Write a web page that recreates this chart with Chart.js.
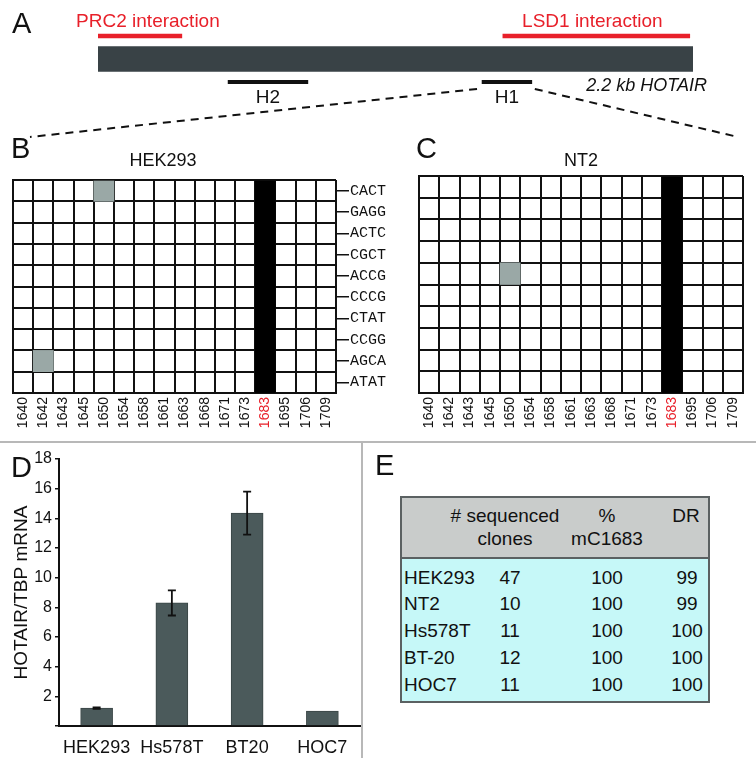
<!DOCTYPE html>
<html>
<head>
<meta charset="utf-8">
<script src="https://cdn.jsdelivr.net/npm/chart.js@4.4.1/dist/chart.umd.min.js"></script>
<style>
body { margin: 0; background: #fff; }
#fig { position: relative; width: 756px; height: 758px; overflow: hidden; font-family: "Liberation Sans", Arial, sans-serif; color: #111; }
#fig canvas { position: absolute; }
.letter { position: absolute; font-size: 29px; line-height: 29px; }
.title { position: absolute; font-size: 18px; line-height: 18px; transform: translateX(-50%); white-space: nowrap; }
.sep { position: absolute; background: #b8b8b8; }
.tbox { position: absolute; left: 400px; top: 496px; width: 310px; height: 207px; box-sizing: border-box; border: 2px solid #5b6162; background: #c6f8f8; }
.thead { position: absolute; left: 0; top: 0; width: 306px; height: 59px; background: #c9cccb; border-bottom: 2px solid #5b6162; }
.cell { position: absolute; font-size: 19px; line-height: 19px; white-space: nowrap; }
.mid { transform: translateX(-50%); }
</style>
</head>
<body>
<div id="fig">
  <canvas id="geneMap" width="756" height="170" style="left:0;top:0"></canvas>
  <canvas id="nt2Grid" width="376" height="272" style="left:380px;top:170px"></canvas>
  <canvas id="hekGrid" width="400" height="272" style="left:0;top:170px"></canvas>
  <canvas id="hotairBar" width="362" height="315" style="left:0;top:443px"></canvas>

  <div class="sep" style="left:0;top:441px;width:756px;height:1.5px"></div>
  <div class="sep" style="left:361px;top:442px;width:1.5px;height:316px"></div>

  <div class="letter" style="left:12px;top:9px">A</div>
  <div class="letter" style="left:11px;top:134px">B</div>
  <div class="letter" style="left:416px;top:134px">C</div>
  <div class="letter" style="left:11px;top:453px">D</div>
  <div class="letter" style="left:375px;top:451px">E</div>

  <div class="title" style="left:163px;top:151px">HEK293</div>
  <div class="title" style="left:581px;top:151px">NT2</div>

  <div class="tbox"><div class="thead"></div></div>
  <div id="tableText"></div>
</div>

<script>
// ---- panel A: HOTAIR transcript map (positions in bp) ----
var geneLengthBp = 2200;
var domainNames = ['PRC2 interaction', 'LSD1 interaction'];
var domainStart = [0, 1497];
var domainEnd = [310, 2188];
var ampliconNames = ['H2', 'H1'];
var ampliconStart = [481, 1420];
var ampliconEnd = [776, 1604];

// ---- panels B/C: bisulfite clones ----
var cpgSites = ['1640', '1642', '1643', '1645', '1650', '1654', '1658', '1661', '1663', '1668', '1671', '1673', '1683', '1695', '1706', '1709'];
var focusSite = '1683';
var hekReads = ['CACT', 'GAGG', 'ACTC', 'CGCT', 'ACCG', 'CCCG', 'CTAT', 'CCGG', 'AGCA', 'ATAT'];
var hekMethylated = ['1683'];          // methylated in every clone
var hekGreySites = ['1650', '1642'];
var hekGreyReads = [0, 8];
var nt2ReadCount = 10;
var nt2Methylated = ['1683'];
var nt2GreySites = ['1650'];
var nt2GreyReads = [4];

// ---- panel D: expression ----
var cellLines = ['HEK293', 'Hs578T', 'BT20', 'HOC7'];
var hotairLevel = [1.2, 8.3, 14.35, 1.0];
var hotairError = [0.05, 0.85, 1.45, 0];

// ---- panel E: table ----
var tableLines = ['HEK293', 'NT2', 'Hs578T', 'BT-20', 'HOC7'];
var sequencedClones = [47, 10, 11, 12, 11];
var pctMethylC1683 = [100, 100, 100, 100, 100];
var drValues = [99, 99, 100, 100, 100];

var RED = '#e8202a';
var INK = '#111';
var SANS = '"Liberation Sans", Arial, sans-serif';
Chart.defaults.font.family = SANS;
Chart.defaults.color = INK;
Chart.defaults.animation = false;

// ---------- A ----------
const geneText = {
    id: 'geneText',
    afterDatasetsDraw(chart) {
        const ctx = chart.ctx;
        ctx.save();
        ctx.font = '19px ' + SANS;
        ctx.textAlign = 'center';
        ctx.textBaseline = 'alphabetic';
        ctx.fillStyle = RED;
        chart.getDatasetMeta(0).data.forEach(function (bar, i) {
            ctx.fillText(domainNames[i], (bar.x + bar.base) / 2 + (i === 0 ? 8 : -4), bar.y - 9);
        });
        ctx.fillStyle = INK;
        const amp = chart.getDatasetMeta(2).data;
        amp.forEach(function (bar, i) {
            ctx.fillText(ampliconNames[i], (bar.x + bar.base) / 2, bar.y + 21);
        });
        const tr = chart.getDatasetMeta(1).data[0];
        ctx.font = 'italic 18px ' + SANS;
        ctx.textAlign = 'right';
        ctx.fillText('2.2 kb HOTAIR', tr.x + 14, amp[0].y + 9);

        // dashed zoom lines from H1 to panels B and C
        const h1 = amp[1];
        ctx.strokeStyle = INK;
        ctx.lineWidth = 2;
        ctx.setLineDash([8, 6]);
        ctx.beginPath();
        ctx.moveTo(h1.base - 5, h1.y + 7);
        ctx.lineTo(30, 137);
        ctx.moveTo(h1.x + 3, h1.y + 7);
        ctx.lineTo(738, 137);
        ctx.stroke();
        ctx.restore();
    }
};

new Chart(document.getElementById('geneMap'), {
    type: 'bar',
    data: {
        labels: ['domains', 'transcript', 'amplicons'],
        datasets: [{
            data: domainNames.map(function (n, i) { return { y: 'domains', x: [domainStart[i], domainEnd[i]] }; }),
            backgroundColor: RED,
            barThickness: 4,
            grouped: false
        }, {
            data: [{ y: 'transcript', x: [0, geneLengthBp] }],
            backgroundColor: '#394246',
            barThickness: 25,
            grouped: false
        }, {
            data: ampliconNames.map(function (n, i) { return { y: 'amplicons', x: [ampliconStart[i], ampliconEnd[i]] }; }),
            backgroundColor: INK,
            barThickness: 3.5,
            grouped: false
        }]
    },
    options: {
        indexAxis: 'y',
        responsive: false,
        layout: { padding: { left: 98, right: 63, top: 24.5, bottom: 76.5 } },
        plugins: { legend: { display: false }, tooltip: { enabled: false } },
        scales: {
            x: { type: 'linear', min: 0, max: geneLengthBp, display: false },
            y: { display: false }
        }
    },
    plugins: [geneText]
});

// ---------- B / C ----------
function cellBars(methylated, rows, greySites, greyReads) {
    return [{
        data: methylated.map(function (s) { return { x: s, y: [0, rows] }; }),
        backgroundColor: '#000',
        barPercentage: 1, categoryPercentage: 1, grouped: false
    }, {
        data: greySites.map(function (s, i) { return { x: s, y: [greyReads[i], greyReads[i] + 1] }; }),
        backgroundColor: '#9aa8a6',
        barPercentage: 1, categoryPercentage: 1, grouped: false
    }];
}

function LoadCloneGrid(canvasId, rows, rowLabels, datasets, padLeft, padRight, labelWidth) {
    const scales = {
        x: {
            z: 1,
            grid: { color: INK, lineWidth: 2, drawTicks: false, offset: true },
            border: { color: INK, width: 2 },
            ticks: {
                autoSkip: false, minRotation: 90, maxRotation: 90, padding: 4,
                font: { size: 14 },
                color: function (c) { return cpgSites[c.index] === focusSite ? RED : INK; }
            },
            afterFit: function (s) { s.height = 49; }
        },
        y: {
            z: 1, position: 'left', min: 0, max: rows, reverse: true,
            ticks: { display: false, stepSize: 1 },
            grid: { color: INK, lineWidth: 2, drawTicks: false },
            border: { color: INK, width: 2 },
            afterFit: function (s) { s.width = 0; }
        }
    };
    if (rowLabels) {
        scales.y2 = {
            z: 1, position: 'right', min: 0, max: rows, reverse: true,
            afterBuildTicks: function (s) {
                s.ticks = rowLabels.map(function (l, i) { return { value: i + 0.5 }; });
            },
            ticks: {
                padding: 1, color: INK,
                font: { family: '"Liberation Mono", "Courier New", monospace', size: 15 },
                callback: function (v, i) { return rowLabels[i]; }
            },
            grid: { drawOnChartArea: false, color: INK, lineWidth: 1.5, tickLength: 13 },
            border: { display: false },
            afterFit: function (s) { s.width = labelWidth; }
        };
    }
    new Chart(document.getElementById(canvasId), {
        type: 'bar',
        data: { labels: cpgSites, datasets: datasets },
        options: {
            responsive: false,
            layout: { padding: { left: padLeft, right: padRight, top: 6, bottom: 0 } },
            plugins: { legend: { display: false }, tooltip: { enabled: false } },
            scales: scales
        }
    });
}

LoadCloneGrid('hekGrid', hekReads.length, hekReads, cellBars(hekMethylated, hekReads.length, hekGreySites, hekGreyReads), 13, 0, 400 - 336);
LoadCloneGrid('nt2Grid', nt2ReadCount, null, cellBars(nt2Methylated, nt2ReadCount, nt2GreySites, nt2GreyReads), 39, 13, 0);

// ---------- D ----------
const errorBars = {
    id: 'errorBars',
    afterDatasetsDraw(chart) {
        const ctx = chart.ctx;
        const y = chart.scales.y;
        ctx.save();
        ctx.strokeStyle = INK;
        ctx.lineWidth = 1.8;
        chart.getDatasetMeta(0).data.forEach(function (bar, i) {
            const e = hotairError[i];
            if (!e) return;
            const top = y.getPixelForValue(hotairLevel[i] + e);
            const bot = y.getPixelForValue(hotairLevel[i] - e);
            ctx.beginPath();
            ctx.moveTo(bar.x, top); ctx.lineTo(bar.x, bot);
            ctx.moveTo(bar.x - 4, top); ctx.lineTo(bar.x + 4, top);
            ctx.moveTo(bar.x - 4, bot); ctx.lineTo(bar.x + 4, bot);
            ctx.stroke();
        });
        ctx.restore();
    }
};

new Chart(document.getElementById('hotairBar'), {
    type: 'bar',
    data: {
        labels: cellLines,
        datasets: [{
            data: hotairLevel,
            backgroundColor: '#4b5a5b',
            borderColor: '#3a4646',
            borderWidth: 1,
            barThickness: 32
        }]
    },
    options: {
        responsive: false,
        layout: { padding: { left: 0, right: 2, top: 16, bottom: 0 } },
        plugins: { legend: { display: false }, tooltip: { enabled: false } },
        scales: {
            x: {
                grid: { display: false },
                border: { color: INK, width: 2 },
                ticks: { font: { size: 18 }, padding: 3, color: INK },
                afterFit: function (s) { s.height = 32; }
            },
            y: {
                min: 0, max: 18,
                ticks: {
                    stepSize: 2, font: { size: 16 }, padding: 3, color: INK,
                    callback: function (v) { return v === 0 ? '' : v; }
                },
                grid: { drawOnChartArea: false, color: INK, lineWidth: 1.5, tickLength: 4 },
                border: { color: INK, width: 2 },
                title: { display: true, text: 'HOTAIR/TBP mRNA', font: { size: 19 }, color: INK, padding: { top: 10, bottom: 0 } },
                afterFit: function (s) { s.width = 59; }
            }
        }
    },
    plugins: [errorBars]
});

// ---------- E ----------
function addCell(text, x, cy, centered) {
    const d = document.createElement('div');
    d.className = 'cell' + (centered ? ' mid' : '');
    d.style.left = x + 'px';
    d.style.top = (cy - 9.5) + 'px';
    d.textContent = text;
    document.getElementById('tableText').appendChild(d);
}
addCell('# sequenced', 505, 515, true);
addCell('clones', 505, 538, true);
addCell('%', 607, 515, true);
addCell('mC1683', 607, 538, true);
addCell('DR', 686, 515, true);
tableLines.forEach(function (name, i) {
    const cy = 577 + i * 26.75;
    addCell(name, 404, cy, false);
    addCell(String(sequencedClones[i]), 510, cy, true);
    addCell(String(pctMethylC1683[i]), 607, cy, true);
    addCell(String(drValues[i]), 687, cy, true);
});
</script>
</body>
</html>
